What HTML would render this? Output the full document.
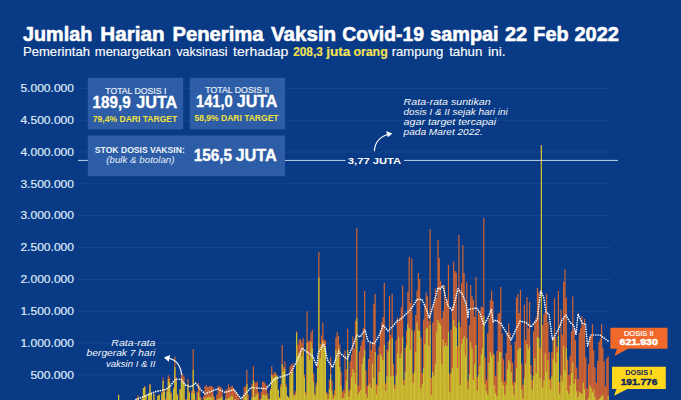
<!DOCTYPE html>
<html lang="id"><head><meta charset="utf-8"><title>Jumlah Harian Penerima Vaksin Covid-19</title>
<style>html,body{margin:0;padding:0;background:#093a85;}body{width:681px;height:400px;overflow:hidden;font-family:"Liberation Sans",sans-serif;}svg{display:block;}</style>
</head><body>
<svg width="681" height="400" viewBox="0 0 681 400" font-family="'Liberation Sans', sans-serif">
<line x1="78" x2="611" y1="88.30" y2="88.30" stroke="#1c4a95" stroke-width="0.8"/>
<line x1="78" x2="611" y1="120.15" y2="120.15" stroke="#1c4a95" stroke-width="0.8"/>
<line x1="78" x2="611" y1="152.00" y2="152.00" stroke="#1c4a95" stroke-width="0.8"/>
<line x1="78" x2="611" y1="183.85" y2="183.85" stroke="#1c4a95" stroke-width="0.8"/>
<line x1="78" x2="611" y1="215.70" y2="215.70" stroke="#1c4a95" stroke-width="0.8"/>
<line x1="78" x2="611" y1="247.55" y2="247.55" stroke="#1c4a95" stroke-width="0.8"/>
<line x1="78" x2="611" y1="279.40" y2="279.40" stroke="#1c4a95" stroke-width="0.8"/>
<line x1="78" x2="611" y1="311.25" y2="311.25" stroke="#1c4a95" stroke-width="0.8"/>
<line x1="78" x2="611" y1="343.10" y2="343.10" stroke="#1c4a95" stroke-width="0.8"/>
<line x1="78" x2="611" y1="374.95" y2="374.95" stroke="#1c4a95" stroke-width="0.8"/>
<text x="74.0" y="92.00" font-size="10.6" text-anchor="end" font-weight="normal" font-style="normal" fill="#dde8f8" textLength="53.6" lengthAdjust="spacingAndGlyphs" stroke="#dde8f8" stroke-width="0.2">5.000.000</text>
<text x="74.0" y="123.85" font-size="10.6" text-anchor="end" font-weight="normal" font-style="normal" fill="#dde8f8" textLength="53.6" lengthAdjust="spacingAndGlyphs" stroke="#dde8f8" stroke-width="0.2">4.500.000</text>
<text x="74.0" y="155.70" font-size="10.6" text-anchor="end" font-weight="normal" font-style="normal" fill="#dde8f8" textLength="53.6" lengthAdjust="spacingAndGlyphs" stroke="#dde8f8" stroke-width="0.2">4.000.000</text>
<text x="74.0" y="187.55" font-size="10.6" text-anchor="end" font-weight="normal" font-style="normal" fill="#dde8f8" textLength="53.6" lengthAdjust="spacingAndGlyphs" stroke="#dde8f8" stroke-width="0.2">3.500.000</text>
<text x="74.0" y="219.40" font-size="10.6" text-anchor="end" font-weight="normal" font-style="normal" fill="#dde8f8" textLength="53.6" lengthAdjust="spacingAndGlyphs" stroke="#dde8f8" stroke-width="0.2">3.000.000</text>
<text x="74.0" y="251.25" font-size="10.6" text-anchor="end" font-weight="normal" font-style="normal" fill="#dde8f8" textLength="53.6" lengthAdjust="spacingAndGlyphs" stroke="#dde8f8" stroke-width="0.2">2.500.000</text>
<text x="74.0" y="283.10" font-size="10.6" text-anchor="end" font-weight="normal" font-style="normal" fill="#dde8f8" textLength="53.6" lengthAdjust="spacingAndGlyphs" stroke="#dde8f8" stroke-width="0.2">2.000.000</text>
<text x="74.0" y="314.95" font-size="10.6" text-anchor="end" font-weight="normal" font-style="normal" fill="#dde8f8" textLength="53.6" lengthAdjust="spacingAndGlyphs" stroke="#dde8f8" stroke-width="0.2">1.500.000</text>
<text x="74.0" y="346.80" font-size="10.6" text-anchor="end" font-weight="normal" font-style="normal" fill="#dde8f8" textLength="53.6" lengthAdjust="spacingAndGlyphs" stroke="#dde8f8" stroke-width="0.2">1.000.000</text>
<text x="74.0" y="378.65" font-size="10.6" text-anchor="end" font-weight="normal" font-style="normal" fill="#dde8f8" textLength="43.6" lengthAdjust="spacingAndGlyphs" stroke="#dde8f8" stroke-width="0.2">500.000</text>
<!--CHART--><path d="M117.98 394.8v15.4h1.2v-15.4zM129.76 407.6v2.6h1.2v-2.6zM131.07 405.7v4.5h1.2v-4.5zM132.38 403.7v6.5h1.2v-6.5zM133.69 401.0v9.2h1.2v-9.2zM135.00 400.0v10.2h1.2v-10.2zM136.31 397.8v12.4h1.2v-12.4zM137.61 394.9v15.3h1.2v-15.3zM138.92 399.9v10.3h1.2v-10.3zM140.23 403.8v6.4h1.2v-6.4zM141.54 398.1v12.1h1.2v-12.1zM142.85 388.0v22.2h1.2v-22.2zM144.16 386.0v24.2h1.2v-24.2zM145.47 395.2v15.0h1.2v-15.0zM146.78 401.9v8.3h1.2v-8.3zM148.09 393.3v16.9h1.2v-16.9zM149.40 384.0v26.2h1.2v-26.2zM150.70 392.8v17.4h1.2v-17.4zM152.01 401.3v8.9h1.2v-8.9zM153.32 393.5v16.7h1.2v-16.7zM154.63 402.1v8.1h1.2v-8.1zM155.94 401.8v8.4h1.2v-8.4zM157.25 395.5v14.7h1.2v-14.7zM158.56 394.4v15.8h1.2v-15.8zM159.87 400.2v10.0h1.2v-10.0zM161.18 392.3v17.9h1.2v-17.9zM162.48 377.5v32.7h1.2v-32.7zM163.79 389.9v20.3h1.2v-20.3zM165.10 398.8v11.4h1.2v-11.4zM166.41 388.1v22.1h1.2v-22.1zM167.72 375.2v34.9h1.2v-34.9zM169.03 377.7v32.5h1.2v-32.5zM170.34 391.7v18.5h1.2v-18.5zM171.65 399.4v10.8h1.2v-10.8zM172.96 387.5v22.7h1.2v-22.7zM174.27 356.5v53.7h1.2v-53.7zM175.58 376.9v33.3h1.2v-33.3zM176.88 394.1v16.1h1.2v-16.1zM178.19 400.6v9.6h1.2v-9.6zM179.50 389.1v21.1h1.2v-21.1zM180.81 373.8v36.4h1.2v-36.4zM182.12 374.6v35.6h1.2v-35.6zM183.43 376.6v33.6h1.2v-33.6zM184.74 399.6v10.6h1.2v-10.6zM186.05 399.0v11.2h1.2v-11.2zM187.36 379.1v31.1h1.2v-31.1zM188.66 391.2v19.0h1.2v-19.0zM189.97 400.3v9.9h1.2v-9.9zM191.28 390.8v19.4h1.2v-19.4zM192.59 349.0v61.2h1.2v-61.2zM193.90 390.4v19.8h1.2v-19.8zM195.21 399.7v10.5h1.2v-10.5zM196.52 391.7v18.5h1.2v-18.5zM197.83 383.0v27.2h1.2v-27.2zM199.14 386.1v24.1h1.2v-24.1zM200.45 397.2v13.0h1.2v-13.0zM201.75 402.9v7.3h1.2v-7.3zM203.06 396.0v14.2h1.2v-14.2zM204.37 386.5v23.7h1.2v-23.7zM205.68 385.1v25.1h1.2v-25.1zM206.99 387.0v23.2h1.2v-23.2zM208.30 387.0v23.2h1.2v-23.2zM209.61 385.7v24.5h1.2v-24.5zM210.92 386.1v24.1h1.2v-24.1zM212.23 386.9v23.3h1.2v-23.3zM213.54 397.0v13.2h1.2v-13.2zM214.84 402.5v7.7h1.2v-7.7zM216.15 394.4v15.8h1.2v-15.8zM217.46 386.3v23.9h1.2v-23.9zM218.77 386.6v23.6h1.2v-23.6zM220.08 387.1v23.1h1.2v-23.1zM221.39 388.4v21.8h1.2v-21.8zM222.70 403.6v6.6h1.2v-6.6zM224.01 403.5v6.7h1.2v-6.7zM225.32 389.8v20.4h1.2v-20.4zM226.63 388.7v21.5h1.2v-21.5zM227.94 384.2v26.0h1.2v-26.0zM229.24 387.7v22.5h1.2v-22.5zM230.55 386.2v24.0h1.2v-24.0zM231.86 385.7v24.5h1.2v-24.5zM233.17 388.3v21.9h1.2v-21.9zM234.48 390.6v19.6h1.2v-19.6zM235.79 393.3v16.9h1.2v-16.9zM237.10 394.9v15.3h1.2v-15.3zM238.41 397.4v12.8h1.2v-12.8zM239.72 402.6v7.6h1.2v-7.6zM241.03 404.4v5.8h1.2v-5.8zM242.33 397.4v12.8h1.2v-12.8zM243.64 386.7v23.5h1.2v-23.5zM244.95 386.4v23.8h1.2v-23.8zM246.26 370.0v40.2h1.2v-40.2zM247.57 394.5v15.7h1.2v-15.7zM248.88 401.5v8.7h1.2v-8.7zM250.19 401.5v8.7h1.2v-8.7zM251.50 383.8v26.4h1.2v-26.4zM252.81 366.2v43.9h1.2v-43.9zM254.12 381.7v28.5h1.2v-28.5zM255.42 383.0v27.2h1.2v-27.2zM256.73 381.2v29.0h1.2v-29.0zM258.04 392.5v17.7h1.2v-17.7zM259.35 399.3v10.9h1.2v-10.9zM260.66 391.5v18.7h1.2v-18.7zM261.97 381.8v28.4h1.2v-28.4zM263.28 381.6v28.6h1.2v-28.6zM264.59 383.4v26.8h1.2v-26.8zM265.90 385.6v24.6h1.2v-24.6zM267.20 393.4v16.8h1.2v-16.8zM268.51 398.9v11.3h1.2v-11.3zM269.82 388.9v21.3h1.2v-21.3zM271.13 366.2v43.9h1.2v-43.9zM272.44 374.6v35.6h1.2v-35.6zM273.75 372.3v37.9h1.2v-37.9zM275.06 372.2v38.0h1.2v-38.0zM276.37 375.0v35.2h1.2v-35.2zM277.68 389.6v20.6h1.2v-20.6zM278.99 397.5v12.7h1.2v-12.7zM280.29 384.3v25.9h1.2v-25.9zM281.60 345.0v65.2h1.2v-65.2zM282.91 366.7v43.5h1.2v-43.5zM284.22 361.5v48.7h1.2v-48.7zM285.53 384.5v25.7h1.2v-25.7zM286.84 395.7v14.5h1.2v-14.5zM288.15 397.1v13.1h1.2v-13.1zM289.46 366.4v43.8h1.2v-43.8zM290.77 364.4v45.8h1.2v-45.8zM292.08 363.3v46.9h1.2v-46.9zM293.38 393.9v16.3h1.2v-16.3zM294.69 391.2v19.0h1.2v-19.0zM296.00 331.2v78.9h1.2v-78.9zM297.31 344.8v65.4h1.2v-65.4zM298.62 339.7v70.5h1.2v-70.5zM299.93 338.9v71.3h1.2v-71.3zM301.24 342.4v67.8h1.2v-67.8zM302.55 338.0v72.2h1.2v-72.2zM303.86 374.4v35.8h1.2v-35.8zM305.17 391.9v18.3h1.2v-18.3zM306.47 311.2v98.9h1.2v-98.9zM307.78 341.0v69.2h1.2v-69.2zM309.09 340.7v69.5h1.2v-69.5zM310.40 332.5v77.7h1.2v-77.7zM311.71 330.1v80.1h1.2v-80.1zM313.02 373.4v36.8h1.2v-36.8zM314.33 393.6v16.6h1.2v-16.6zM315.64 382.8v27.4h1.2v-27.4zM316.95 361.9v48.3h1.2v-48.3zM318.26 252.0v158.2h1.2v-158.2zM319.56 344.0v66.2h1.2v-66.2zM320.87 335.5v74.7h1.2v-74.7zM322.18 322.5v87.7h1.2v-87.7zM323.49 339.4v70.8h1.2v-70.8zM324.80 340.3v69.9h1.2v-69.9zM326.11 391.9v18.3h1.2v-18.3zM327.42 394.0v16.2h1.2v-16.2zM328.73 379.4v30.8h1.2v-30.8zM330.04 357.0v53.2h1.2v-53.2zM331.35 380.3v29.9h1.2v-29.9zM332.65 394.4v15.8h1.2v-15.8zM333.96 389.9v20.3h1.2v-20.3zM335.27 337.5v72.7h1.2v-72.7zM336.58 331.9v78.3h1.2v-78.3zM337.89 336.0v74.2h1.2v-74.2zM339.20 344.4v65.8h1.2v-65.8zM340.51 372.0v38.2h1.2v-38.2zM341.82 391.8v18.4h1.2v-18.4zM343.13 389.5v20.7h1.2v-20.7zM344.44 350.2v60.0h1.2v-60.0zM345.74 368.9v41.3h1.2v-41.3zM347.05 328.8v81.4h1.2v-81.4zM348.36 390.7v19.5h1.2v-19.5zM349.67 361.4v48.8h1.2v-48.8zM350.98 354.2v56.0h1.2v-56.0zM352.29 336.3v73.9h1.2v-73.9zM353.60 348.6v61.6h1.2v-61.6zM354.91 320.7v89.5h1.2v-89.5zM356.22 228.0v182.2h1.2v-182.2zM357.53 385.4v24.8h1.2v-24.8zM358.83 351.4v58.8h1.2v-58.8zM360.14 345.7v64.5h1.2v-64.5zM361.45 340.4v69.8h1.2v-69.8zM362.76 327.8v82.4h1.2v-82.4zM364.07 291.0v119.2h1.2v-119.2zM365.38 370.5v39.7h1.2v-39.7zM366.69 385.4v24.8h1.2v-24.8zM368.00 359.0v51.2h1.2v-51.2zM369.31 342.7v67.5h1.2v-67.5zM370.62 350.2v60.0h1.2v-60.0zM371.92 342.1v68.1h1.2v-68.1zM373.23 303.7v106.5h1.2v-106.5zM374.54 294.0v116.2h1.2v-116.2zM375.85 384.3v25.9h1.2v-25.9zM377.16 355.0v55.2h1.2v-55.2zM378.47 346.6v63.6h1.2v-63.6zM379.78 330.2v80.0h1.2v-80.0zM381.09 322.2v88.0h1.2v-88.0zM382.40 317.0v93.2h1.2v-93.2zM383.71 283.0v127.2h1.2v-127.2zM385.01 383.3v26.9h1.2v-26.9zM386.32 349.2v61.0h1.2v-61.0zM387.63 341.4v68.8h1.2v-68.8zM388.94 296.0v114.2h1.2v-114.2zM390.25 334.9v75.3h1.2v-75.3zM391.56 294.0v116.2h1.2v-116.2zM392.87 363.7v46.5h1.2v-46.5zM394.18 384.6v25.6h1.2v-25.6zM395.49 339.9v70.3h1.2v-70.3zM396.80 317.4v92.8h1.2v-92.8zM398.10 320.5v89.7h1.2v-89.7zM399.41 317.3v92.9h1.2v-92.9zM400.72 307.3v102.9h1.2v-102.9zM402.03 285.6v124.6h1.2v-124.6zM403.34 380.1v30.1h1.2v-30.1zM404.65 348.1v62.1h1.2v-62.1zM405.96 330.4v79.8h1.2v-79.8zM407.27 291.9v118.3h1.2v-118.3zM408.58 257.0v153.2h1.2v-153.2zM409.89 303.0v107.2h1.2v-107.2zM411.19 258.4v151.8h1.2v-151.8zM412.50 374.1v36.1h1.2v-36.1zM413.81 330.4v79.8h1.2v-79.8zM415.12 315.1v95.1h1.2v-95.1zM416.43 290.7v119.5h1.2v-119.5zM417.74 273.0v137.2h1.2v-137.2zM419.05 279.0v131.2h1.2v-131.2zM420.36 338.1v72.1h1.2v-72.1zM421.67 372.7v37.5h1.2v-37.5zM422.98 319.4v90.8h1.2v-90.8zM424.28 304.7v105.5h1.2v-105.5zM425.59 292.4v117.8h1.2v-117.8zM426.90 296.3v113.9h1.2v-113.9zM428.21 321.1v89.1h1.2v-89.1zM429.52 229.0v181.2h1.2v-181.2zM430.83 377.8v32.4h1.2v-32.4zM432.14 322.5v87.7h1.2v-87.7zM433.45 303.6v106.6h1.2v-106.6zM434.76 288.4v121.8h1.2v-121.8zM436.07 298.1v112.1h1.2v-112.1zM437.37 240.0v170.2h1.2v-170.2zM438.68 258.0v152.2h1.2v-152.2zM439.99 281.0v129.2h1.2v-129.2zM441.30 318.4v91.8h1.2v-91.8zM442.61 311.0v99.2h1.2v-99.2zM443.92 285.2v125.0h1.2v-125.0zM445.23 302.0v108.2h1.2v-108.2zM446.54 299.3v110.9h1.2v-110.9zM447.85 265.0v145.2h1.2v-145.2zM449.16 373.9v36.3h1.2v-36.3zM450.46 329.4v80.8h1.2v-80.8zM451.77 306.4v103.8h1.2v-103.8zM453.08 261.7v148.5h1.2v-148.5zM454.39 271.0v139.2h1.2v-139.2zM455.70 273.0v137.2h1.2v-137.2zM457.01 346.1v64.1h1.2v-64.1zM458.32 235.0v175.2h1.2v-175.2zM459.63 327.1v83.1h1.2v-83.1zM460.94 283.2v127.0h1.2v-127.0zM462.25 244.9v165.3h1.2v-165.3zM463.55 273.0v137.2h1.2v-137.2zM464.86 304.2v106.0h1.2v-106.0zM466.17 282.0v128.2h1.2v-128.2zM467.48 380.8v29.4h1.2v-29.4zM468.79 324.9v85.3h1.2v-85.3zM470.10 285.0v125.2h1.2v-125.2zM471.41 295.9v114.3h1.2v-114.3zM472.72 299.9v110.3h1.2v-110.3zM474.03 317.1v93.1h1.2v-93.1zM475.34 277.0v133.2h1.2v-133.2zM476.64 377.0v33.2h1.2v-33.2zM477.95 310.1v100.1h1.2v-100.1zM479.26 314.7v95.5h1.2v-95.5zM480.57 306.5v103.7h1.2v-103.7zM481.88 307.2v103.0h1.2v-103.0zM483.19 218.0v192.2h1.2v-192.2zM484.50 357.3v52.9h1.2v-52.9zM485.81 379.5v30.7h1.2v-30.7zM487.12 333.0v77.2h1.2v-77.2zM488.43 318.6v91.6h1.2v-91.6zM489.73 300.0v110.2h1.2v-110.2zM491.04 290.8v119.4h1.2v-119.4zM492.35 301.0v109.2h1.2v-109.2zM493.66 354.6v55.6h1.2v-55.6zM494.97 375.7v34.5h1.2v-34.5zM496.28 351.0v59.2h1.2v-59.2zM497.59 313.5v96.7h1.2v-96.7zM498.90 312.7v97.5h1.2v-97.5zM500.21 287.0v123.2h1.2v-123.2zM501.52 333.4v76.8h1.2v-76.8zM502.82 359.2v51.0h1.2v-51.0zM504.13 381.2v29.0h1.2v-29.0zM505.44 353.1v57.1h1.2v-57.1zM506.75 332.5v77.7h1.2v-77.7zM508.06 323.6v86.6h1.2v-86.6zM509.37 332.8v77.4h1.2v-77.4zM510.68 344.9v65.3h1.2v-65.3zM511.99 362.4v47.8h1.2v-47.8zM513.30 381.9v28.3h1.2v-28.3zM514.61 341.2v69.0h1.2v-69.0zM515.91 297.7v112.5h1.2v-112.5zM517.22 294.0v116.2h1.2v-116.2zM518.53 313.1v97.1h1.2v-97.1zM519.84 290.0v120.2h1.2v-120.2zM521.15 363.5v46.7h1.2v-46.7zM522.46 384.7v25.5h1.2v-25.5zM523.77 304.8v105.4h1.2v-105.4zM525.08 339.7v70.5h1.2v-70.5zM526.39 297.0v113.2h1.2v-113.2zM527.70 328.5v81.7h1.2v-81.7zM529.00 302.0v108.2h1.2v-108.2zM530.31 365.1v45.1h1.2v-45.1zM531.62 380.0v30.2h1.2v-30.2zM532.93 331.6v78.6h1.2v-78.6zM534.24 321.5v88.7h1.2v-88.7zM535.55 317.2v93.0h1.2v-93.0zM536.86 288.0v122.2h1.2v-122.2zM538.17 292.0v118.2h1.2v-118.2zM539.48 347.4v62.8h1.2v-62.8zM540.79 145.0v265.2h1.2v-265.2zM542.09 325.0v85.2h1.2v-85.2zM543.40 314.2v96.0h1.2v-96.0zM544.71 311.3v98.9h1.2v-98.9zM546.02 294.1v116.1h1.2v-116.1zM547.33 322.5v87.7h1.2v-87.7zM548.64 352.2v58.0h1.2v-58.0zM549.95 378.7v31.5h1.2v-31.5zM551.26 351.7v58.5h1.2v-58.5zM552.57 336.8v73.4h1.2v-73.4zM553.88 298.0v112.2h1.2v-112.2zM555.18 336.8v73.4h1.2v-73.4zM556.49 346.2v64.0h1.2v-64.0zM557.80 291.0v119.2h1.2v-119.2zM559.11 382.0v28.2h1.2v-28.2zM560.42 309.5v100.7h1.2v-100.7zM561.73 334.7v75.5h1.2v-75.5zM563.04 282.0v128.2h1.2v-128.2zM564.35 269.3v140.9h1.2v-140.9zM565.66 298.0v112.2h1.2v-112.2zM566.97 359.6v50.6h1.2v-50.6zM568.27 374.9v35.3h1.2v-35.3zM569.58 355.4v54.8h1.2v-54.8zM570.89 331.5v78.7h1.2v-78.7zM572.20 296.6v113.6h1.2v-113.6zM573.51 329.5v80.7h1.2v-80.7zM574.82 340.3v69.9h1.2v-69.9zM576.13 367.4v42.8h1.2v-42.8zM577.44 379.0v31.2h1.2v-31.2zM578.75 332.9v77.3h1.2v-77.3zM580.06 328.2v82.0h1.2v-82.0zM581.36 316.3v93.9h1.2v-93.9zM582.67 324.7v85.5h1.2v-85.5zM583.98 319.1v91.1h1.2v-91.1zM585.29 357.5v52.7h1.2v-52.7zM586.60 388.5v21.7h1.2v-21.7zM587.91 364.2v46.0h1.2v-46.0zM589.22 337.0v73.2h1.2v-73.2zM590.53 335.5v74.7h1.2v-74.7zM591.84 323.9v86.3h1.2v-86.3zM593.15 349.9v60.3h1.2v-60.3zM594.45 367.4v42.8h1.2v-42.8zM595.76 382.7v27.5h1.2v-27.5zM597.07 361.1v49.1h1.2v-49.1zM598.38 341.9v68.3h1.2v-68.3zM599.69 338.4v71.8h1.2v-71.8zM601.00 324.3v85.9h1.2v-85.9zM602.31 347.7v62.5h1.2v-62.5zM603.62 361.4v48.8h1.2v-48.8zM604.93 386.2v24.0h1.2v-24.0zM606.24 358.6v51.6h1.2v-51.6zM607.54 356.4v53.8h1.2v-53.8z" fill="#d2632f"/>
<path d="M118.02 394.8v15.4h1.12v-15.4zM129.80 407.7v2.5h1.12v-2.5zM131.11 406.2v4.0h1.12v-4.0zM132.42 405.0v5.2h1.12v-5.2zM133.73 402.8v7.4h1.12v-7.4zM135.04 401.8v8.4h1.12v-8.4zM136.34 400.8v9.4h1.12v-9.4zM137.65 397.9v12.3h1.12v-12.3zM138.96 401.6v8.6h1.12v-8.6zM140.27 404.3v5.9h1.12v-5.9zM141.58 398.9v11.3h1.12v-11.3zM142.89 388.0v22.2h1.12v-22.2zM144.20 387.1v23.1h1.12v-23.1zM145.51 395.3v14.9h1.12v-14.9zM146.82 402.4v7.8h1.12v-7.8zM148.13 393.4v16.8h1.12v-16.8zM149.44 384.5v25.7h1.12v-25.7zM150.74 393.3v16.9h1.12v-16.9zM152.05 401.5v8.7h1.12v-8.7zM153.36 393.9v16.3h1.12v-16.3zM154.67 402.1v8.1h1.12v-8.1zM155.98 402.0v8.2h1.12v-8.2zM157.29 395.9v14.3h1.12v-14.3zM158.60 395.1v15.1h1.12v-15.1zM159.91 401.4v8.8h1.12v-8.8zM161.22 394.3v15.9h1.12v-15.9zM162.52 381.0v29.2h1.12v-29.2zM163.83 392.0v18.2h1.12v-18.2zM165.14 400.4v9.8h1.12v-9.8zM166.45 391.4v18.8h1.12v-18.8zM167.76 379.0v31.2h1.12v-31.2zM169.07 382.6v27.6h1.12v-27.6zM170.38 393.8v16.4h1.12v-16.4zM171.69 400.7v9.5h1.12v-9.5zM173.00 389.5v20.7h1.12v-20.7zM174.31 367.0v43.2h1.12v-43.2zM175.62 380.4v29.8h1.12v-29.8zM176.92 395.6v14.6h1.12v-14.6zM178.23 400.7v9.5h1.12v-9.5zM179.54 389.6v20.6h1.12v-20.6zM180.85 378.0v32.2h1.12v-32.2zM182.16 380.4v29.8h1.12v-29.8zM183.47 382.5v27.7h1.12v-27.7zM184.78 401.8v8.4h1.12v-8.4zM186.09 400.9v9.3h1.12v-9.3zM187.40 384.2v26.0h1.12v-26.0zM188.70 393.1v17.1h1.12v-17.1zM190.01 401.4v8.8h1.12v-8.8zM191.32 393.0v17.2h1.12v-17.2zM192.63 370.0v40.2h1.12v-40.2zM193.94 394.0v16.2h1.12v-16.2zM195.25 401.9v8.3h1.12v-8.3zM196.56 400.0v10.2h1.12v-10.2zM197.87 392.4v17.8h1.12v-17.8zM199.18 397.3v12.9h1.12v-12.9zM200.49 402.6v7.6h1.12v-7.6zM201.79 405.5v4.7h1.12v-4.7zM203.10 402.3v7.9h1.12v-7.9zM204.41 397.2v13.0h1.12v-13.0zM205.72 398.4v11.8h1.12v-11.8zM207.03 397.2v13.0h1.12v-13.0zM208.34 396.7v13.5h1.12v-13.5zM209.65 396.7v13.5h1.12v-13.5zM210.96 398.6v11.6h1.12v-11.6zM212.27 395.4v14.8h1.12v-14.8zM213.58 402.5v7.7h1.12v-7.7zM214.88 405.2v5.0h1.12v-5.0zM216.19 400.3v9.9h1.12v-9.9zM217.50 398.8v11.4h1.12v-11.4zM218.81 398.7v11.5h1.12v-11.5zM220.12 397.9v12.3h1.12v-12.3zM221.43 396.5v13.7h1.12v-13.7zM222.74 406.2v4.0h1.12v-4.0zM224.05 405.6v4.6h1.12v-4.6zM225.36 398.5v11.7h1.12v-11.7zM226.67 399.2v11.0h1.12v-11.0zM227.97 397.9v12.3h1.12v-12.3zM229.28 397.5v12.7h1.12v-12.7zM230.59 396.1v14.1h1.12v-14.1zM231.90 396.6v13.6h1.12v-13.6zM233.21 400.0v10.2h1.12v-10.2zM234.52 399.0v11.2h1.12v-11.2zM235.83 401.1v9.1h1.12v-9.1zM237.14 401.0v9.2h1.12v-9.2zM238.45 401.9v8.3h1.12v-8.3zM239.76 404.8v5.4h1.12v-5.4zM241.06 406.3v3.9h1.12v-3.9zM242.37 403.0v7.2h1.12v-7.2zM243.68 395.6v14.6h1.12v-14.6zM244.99 397.0v13.2h1.12v-13.2zM246.30 384.0v26.2h1.12v-26.2zM247.61 401.8v8.4h1.12v-8.4zM248.92 404.2v6.0h1.12v-6.0zM250.23 405.0v5.2h1.12v-5.2zM251.54 397.3v12.9h1.12v-12.9zM252.85 380.0v30.2h1.12v-30.2zM254.16 397.1v13.1h1.12v-13.1zM255.46 394.7v15.5h1.12v-15.5zM256.77 393.8v16.4h1.12v-16.4zM258.08 400.1v10.1h1.12v-10.1zM259.39 403.2v7.0h1.12v-7.0zM260.70 398.8v11.4h1.12v-11.4zM262.01 395.2v15.0h1.12v-15.0zM263.32 394.1v16.1h1.12v-16.1zM264.63 395.8v14.4h1.12v-14.4zM265.94 394.7v15.5h1.12v-15.5zM267.24 399.3v10.9h1.12v-10.9zM268.55 399.1v11.1h1.12v-11.1zM269.86 390.4v19.8h1.12v-19.8zM271.17 375.0v35.2h1.12v-35.2zM272.48 377.8v32.4h1.12v-32.4zM273.79 377.3v32.9h1.12v-32.9zM275.10 375.3v34.9h1.12v-34.9zM276.41 376.0v34.2h1.12v-34.2zM277.72 390.2v20.0h1.12v-20.0zM279.03 397.8v12.4h1.12v-12.4zM280.33 386.7v23.5h1.12v-23.5zM281.64 364.0v46.2h1.12v-46.2zM282.95 371.4v38.8h1.12v-38.8zM284.26 368.7v41.5h1.12v-41.5zM285.57 387.1v23.1h1.12v-23.1zM286.88 396.1v14.1h1.12v-14.1zM288.19 397.4v12.8h1.12v-12.8zM289.50 375.5v34.7h1.12v-34.7zM290.81 372.3v37.9h1.12v-37.9zM292.12 371.6v38.6h1.12v-38.6zM293.43 396.0v14.2h1.12v-14.2zM294.73 394.6v15.6h1.12v-15.6zM296.04 333.0v77.2h1.12v-77.2zM297.35 355.7v54.5h1.12v-54.5zM298.66 352.8v57.4h1.12v-57.4zM299.97 351.5v58.7h1.12v-58.7zM301.28 356.6v53.6h1.12v-53.6zM302.59 350.1v60.1h1.12v-60.1zM303.90 377.7v32.5h1.12v-32.5zM305.21 395.1v15.1h1.12v-15.1zM306.51 343.0v67.2h1.12v-67.2zM307.82 355.4v54.8h1.12v-54.8zM309.13 359.9v50.3h1.12v-50.3zM310.44 342.0v68.2h1.12v-68.2zM311.75 348.4v61.8h1.12v-61.8zM313.06 381.7v28.5h1.12v-28.5zM314.37 395.2v15.0h1.12v-15.0zM315.68 386.2v24.0h1.12v-24.0zM316.99 367.9v42.3h1.12v-42.3zM318.30 277.5v132.7h1.12v-132.7zM319.60 358.2v52.0h1.12v-52.0zM320.91 345.2v65.0h1.12v-65.0zM322.22 341.0v69.2h1.12v-69.2zM323.53 349.3v60.9h1.12v-60.9zM324.84 346.6v63.6h1.12v-63.6zM326.15 394.2v16.0h1.12v-16.0zM327.46 399.0v11.2h1.12v-11.2zM328.77 389.3v20.9h1.12v-20.9zM330.08 374.3v35.9h1.12v-35.9zM331.39 390.4v19.8h1.12v-19.8zM332.69 398.7v11.5h1.12v-11.5zM334.00 395.8v14.4h1.12v-14.4zM335.31 350.0v60.2h1.12v-60.2zM336.62 359.1v51.1h1.12v-51.1zM337.93 348.0v62.2h1.12v-62.2zM339.24 367.0v43.2h1.12v-43.2zM340.55 385.7v24.5h1.12v-24.5zM341.86 398.5v11.7h1.12v-11.7zM343.17 397.7v12.5h1.12v-12.5zM344.48 393.0v17.2h1.12v-17.2zM345.78 380.6v29.6h1.12v-29.6zM347.09 350.0v60.2h1.12v-60.2zM348.40 396.8v13.4h1.12v-13.4zM349.71 389.6v20.6h1.12v-20.6zM351.02 376.7v33.5h1.12v-33.5zM352.33 369.0v41.2h1.12v-41.2zM353.64 372.6v37.6h1.12v-37.6zM354.95 383.5v26.7h1.12v-26.7zM356.26 318.0v92.2h1.12v-92.2zM357.57 394.1v16.1h1.12v-16.1zM358.88 392.1v18.1h1.12v-18.1zM360.18 389.8v20.4h1.12v-20.4zM361.49 364.1v46.1h1.12v-46.1zM362.80 357.3v52.9h1.12v-52.9zM364.11 350.0v60.2h1.12v-60.2zM365.42 393.6v16.6h1.12v-16.6zM366.73 397.4v12.8h1.12v-12.8zM368.04 385.5v24.7h1.12v-24.7zM369.35 383.4v26.8h1.12v-26.8zM370.66 387.8v22.4h1.12v-22.4zM371.96 363.8v46.4h1.12v-46.4zM373.27 377.9v32.3h1.12v-32.3zM374.58 352.0v58.2h1.12v-58.2zM375.89 394.3v15.9h1.12v-15.9zM377.20 386.0v24.2h1.12v-24.2zM378.51 371.9v38.3h1.12v-38.3zM379.82 353.9v56.3h1.12v-56.3zM381.13 356.6v53.6h1.12v-53.6zM382.44 360.0v50.2h1.12v-50.2zM383.75 345.0v65.2h1.12v-65.2zM385.06 391.1v19.1h1.12v-19.1zM386.36 376.3v33.9h1.12v-33.9zM387.67 351.6v58.6h1.12v-58.6zM388.98 340.0v70.2h1.12v-70.2zM390.29 376.3v33.9h1.12v-33.9zM391.60 338.0v72.2h1.12v-72.2zM392.91 376.6v33.6h1.12v-33.6zM394.22 389.0v21.2h1.12v-21.2zM395.53 375.5v34.7h1.12v-34.7zM396.84 353.8v56.4h1.12v-56.4zM398.14 337.3v72.9h1.12v-72.9zM399.45 358.1v52.1h1.12v-52.1zM400.76 353.5v56.7h1.12v-56.7zM402.07 337.0v73.2h1.12v-73.2zM403.38 385.3v24.9h1.12v-24.9zM404.69 372.3v37.9h1.12v-37.9zM406.00 344.9v65.3h1.12v-65.3zM407.31 324.1v86.1h1.12v-86.1zM408.62 328.0v82.2h1.12v-82.2zM409.93 349.8v60.4h1.12v-60.4zM411.23 330.0v80.2h1.12v-80.2zM412.54 383.0v27.2h1.12v-27.2zM413.85 371.8v38.4h1.12v-38.4zM415.16 352.3v57.9h1.12v-57.9zM416.47 322.3v87.9h1.12v-87.9zM417.78 330.0v80.2h1.12v-80.2zM419.09 331.0v79.2h1.12v-79.2zM420.40 388.4v21.8h1.12v-21.8zM421.71 383.7v26.5h1.12v-26.5zM423.02 368.2v42.0h1.12v-42.0zM424.32 343.9v66.3h1.12v-66.3zM425.63 328.7v81.5h1.12v-81.5zM426.94 327.5v82.7h1.12v-82.7zM428.25 345.8v64.4h1.12v-64.4zM429.56 325.0v85.2h1.12v-85.2zM430.87 395.1v15.1h1.12v-15.1zM432.18 372.1v38.1h1.12v-38.1zM433.49 375.6v34.6h1.12v-34.6zM434.80 364.2v46.0h1.12v-46.0zM436.11 331.5v78.7h1.12v-78.7zM437.41 320.0v90.2h1.12v-90.2zM438.72 323.0v87.2h1.12v-87.2zM440.03 325.0v85.2h1.12v-85.2zM441.34 364.4v45.8h1.12v-45.8zM442.65 339.4v70.8h1.12v-70.8zM443.96 346.7v63.5h1.12v-63.5zM445.27 342.8v67.4h1.12v-67.4zM446.58 346.0v64.2h1.12v-64.2zM447.89 332.0v78.2h1.12v-78.2zM449.20 391.7v18.5h1.12v-18.5zM450.50 373.2v37.0h1.12v-37.0zM451.81 367.7v42.5h1.12v-42.5zM453.12 319.5v90.7h1.12v-90.7zM454.43 326.0v84.2h1.12v-84.2zM455.74 328.0v82.2h1.12v-82.2zM457.05 368.4v41.8h1.12v-41.8zM458.36 322.0v88.2h1.12v-88.2zM459.67 384.9v25.3h1.12v-25.3zM460.98 343.9v66.3h1.12v-66.3zM462.29 338.9v71.3h1.12v-71.3zM463.59 336.0v74.2h1.12v-74.2zM464.90 355.4v54.8h1.12v-54.8zM466.21 338.0v72.2h1.12v-72.2zM467.52 389.0v21.2h1.12v-21.2zM468.83 374.2v36.0h1.12v-36.0zM470.14 342.0v68.2h1.12v-68.2zM471.45 348.3v61.9h1.12v-61.9zM472.76 380.0v30.2h1.12v-30.2zM474.07 364.0v46.2h1.12v-46.2zM475.38 345.0v65.2h1.12v-65.2zM476.69 390.6v19.6h1.12v-19.6zM477.99 374.8v35.4h1.12v-35.4zM479.30 365.7v44.5h1.12v-44.5zM480.61 354.6v55.6h1.12v-55.6zM481.92 348.0v62.2h1.12v-62.2zM483.23 316.0v94.2h1.12v-94.2zM484.54 383.8v26.4h1.12v-26.4zM485.85 390.7v19.5h1.12v-19.5zM487.16 394.6v15.6h1.12v-15.6zM488.47 362.9v47.3h1.12v-47.3zM489.77 352.0v58.2h1.12v-58.2zM491.08 356.4v53.8h1.12v-53.8zM492.39 354.0v56.2h1.12v-56.2zM493.70 385.4v24.8h1.12v-24.8zM495.01 393.2v17.0h1.12v-17.0zM496.32 395.8v14.4h1.12v-14.4zM497.63 361.4v48.8h1.12v-48.8zM498.94 351.9v58.3h1.12v-58.3zM500.25 352.0v58.2h1.12v-58.2zM501.56 382.0v28.2h1.12v-28.2zM502.86 385.2v25.0h1.12v-25.0zM504.17 394.6v15.6h1.12v-15.6zM505.48 384.8v25.4h1.12v-25.4zM506.79 369.2v41.0h1.12v-41.0zM508.10 360.1v50.1h1.12v-50.1zM509.41 362.7v47.5h1.12v-47.5zM510.72 372.2v38.0h1.12v-38.0zM512.03 385.2v25.0h1.12v-25.0zM513.34 394.6v15.6h1.12v-15.6zM514.65 383.1v27.1h1.12v-27.1zM515.96 368.5v41.7h1.12v-41.7zM517.26 350.0v60.2h1.12v-60.2zM518.57 347.7v62.5h1.12v-62.5zM519.88 348.0v62.2h1.12v-62.2zM521.19 389.2v21.0h1.12v-21.0zM522.50 398.6v11.6h1.12v-11.6zM523.81 378.3v31.9h1.12v-31.9zM525.12 363.7v46.5h1.12v-46.5zM526.43 344.0v66.2h1.12v-66.2zM527.74 349.2v61.0h1.12v-61.0zM529.05 346.0v64.2h1.12v-64.2zM530.35 374.8v35.4h1.12v-35.4zM531.66 389.6v20.6h1.12v-20.6zM532.97 375.9v34.3h1.12v-34.3zM534.28 358.0v52.2h1.12v-52.2zM535.59 373.2v37.0h1.12v-37.0zM536.90 337.0v73.2h1.12v-73.2zM538.21 338.0v72.2h1.12v-72.2zM539.52 378.2v32.0h1.12v-32.0zM540.83 145.6v264.6h1.12v-264.6zM542.13 387.5v22.7h1.12v-22.7zM543.44 380.1v30.1h1.12v-30.1zM544.75 353.4v56.8h1.12v-56.8zM546.06 371.8v38.4h1.12v-38.4zM547.37 360.0v50.2h1.12v-50.2zM548.68 379.7v30.5h1.12v-30.5zM549.99 389.7v20.5h1.12v-20.5zM551.30 376.2v34.0h1.12v-34.0zM552.61 359.2v51.0h1.12v-51.0zM553.92 338.0v72.2h1.12v-72.2zM555.23 363.3v46.9h1.12v-46.9zM556.53 352.4v57.8h1.12v-57.8zM557.84 336.0v74.2h1.12v-74.2zM559.15 393.8v16.4h1.12v-16.4zM560.46 375.5v34.7h1.12v-34.7zM561.77 381.1v29.1h1.12v-29.1zM563.08 346.0v64.2h1.12v-64.2zM564.39 370.3v39.9h1.12v-39.9zM565.70 348.0v62.2h1.12v-62.2zM567.01 390.7v19.5h1.12v-19.5zM568.32 394.0v16.2h1.12v-16.2zM569.62 385.2v25.0h1.12v-25.0zM570.93 373.0v37.2h1.12v-37.2zM572.24 362.4v47.8h1.12v-47.8zM573.55 383.8v26.4h1.12v-26.4zM574.86 379.1v31.1h1.12v-31.1zM576.17 391.3v18.9h1.12v-18.9zM577.48 397.3v12.9h1.12v-12.9zM578.79 391.9v18.3h1.12v-18.3zM580.10 393.2v17.0h1.12v-17.0zM581.40 394.1v16.1h1.12v-16.1zM582.71 382.3v27.9h1.12v-27.9zM584.02 389.2v21.0h1.12v-21.0zM585.33 402.7v7.5h1.12v-7.5zM586.64 400.4v9.8h1.12v-9.8zM587.95 398.0v12.2h1.12v-12.2zM589.26 385.2v25.0h1.12v-25.0zM590.57 387.7v22.5h1.12v-22.5zM591.88 392.5v17.7h1.12v-17.7zM593.19 389.6v20.6h1.12v-20.6zM594.50 397.0v13.2h1.12v-13.2zM595.80 401.8v8.4h1.12v-8.4zM597.11 401.3v8.9h1.12v-8.9zM598.42 398.9v11.3h1.12v-11.3zM599.73 397.4v12.8h1.12v-12.8zM601.04 395.9v14.3h1.12v-14.3zM602.35 395.2v15.0h1.12v-15.0zM603.66 401.5v8.7h1.12v-8.7zM604.97 405.7v4.5h1.12v-4.5zM606.28 404.3v5.9h1.12v-5.9zM607.59 396.0v14.2h1.12v-14.2z" fill="#cac52f"/>
<polyline points="136.0,399.5 145.0,396.0 155.0,391.8 165.5,389.5 170.0,386.5 175.2,379.3 181.2,379.3 185.0,385.0 191.0,386.8 195.5,383.0 200.0,389.0 205.0,393.8 217.5,388.8 225.0,392.5 233.8,389.5 241.0,398.8 251.0,387.5 266.0,388.8 275.0,378.8 290.0,373.8 297.5,360.0 302.0,348.0 307.5,352.5 312.5,356.0 317.0,366.0 318.2,352.5 323.8,343.8 327.5,360.0 332.5,367.5 338.8,351.2 340.0,353.0 347.0,359.0 352.0,348.0 357.0,335.0 360.0,337.0 365.0,330.0 368.0,341.0 374.0,344.0 380.0,334.0 383.0,325.0 388.0,331.0 393.0,326.0 398.0,320.0 400.0,320.0 405.0,315.0 410.0,310.0 413.7,305.0 416.9,299.4 421.9,299.4 425.0,306.0 429.4,318.0 432.5,307.5 436.2,295.0 438.0,287.5 440.0,289.4 443.0,285.6 445.0,295.0 448.0,306.0 452.5,310.6 455.6,298.8 458.0,288.8 462.5,294.4 466.2,303.8 468.0,318.0 468.8,308.8 473.8,308.8 476.2,307.5 480.0,312.5 482.5,321.0 483.8,325.0 488.0,318.0 491.5,309.0 493.0,322.0 496.0,320.0 501.0,323.8 511.0,340.0 520.0,321.0 526.0,322.5 531.0,327.0 537.5,318.8 539.5,300.0 540.8,291.0 543.8,297.5 546.0,312.5 549.0,314.0 552.5,340.0 558.8,328.8 562.0,320.0 566.0,315.0 570.0,322.5 573.8,325.5 576.0,335.0 578.0,313.8 582.5,323.8 585.5,323.8 587.5,346.0 591.0,335.0 600.0,335.0 604.0,338.0 608.0,341.0" fill="none" stroke="#fff" stroke-width="1.65" stroke-dasharray="0.01 2.35" stroke-linecap="round" stroke-linejoin="round"/>
<path d="M78 160.4H88M285 160.4H345.5M404 160.4H618" stroke="#dfe8f7" stroke-width="0.9" fill="none"/>
<text x="347.8" y="163.8" font-size="9.7" text-anchor="start" font-weight="bold" font-style="normal" fill="#fff" textLength="53.4" lengthAdjust="spacingAndGlyphs">3,77 JUTA</text>
<rect x="87.8" y="77.8" width="95.4" height="51.5" fill="#2d5da6"/>
<rect x="189.8" y="77.8" width="95.2" height="51.5" fill="#2d5da6"/>
<rect x="87.8" y="135.5" width="197.2" height="40.7" fill="#2d5da6"/>
<text x="105.3" y="93.8" font-size="9" text-anchor="start" font-weight="normal" font-style="normal" fill="#e6eefa" textLength="61" lengthAdjust="spacingAndGlyphs" stroke="#e6eefa" stroke-width="0.2">TOTAL DOSIS I</text>
<text y="108.4" font-size="16.2" font-weight="bold" fill="#fff" stroke="#fff" stroke-width="0.35"><tspan x="92.6" textLength="38.0" lengthAdjust="spacingAndGlyphs">189,9</tspan> <tspan x="136.2" textLength="41.1" lengthAdjust="spacingAndGlyphs">JUTA</tspan></text>
<text x="92.8" y="121.9" font-size="8.8" text-anchor="start" font-weight="bold" font-style="normal" fill="#f2e23c" textLength="84.5" lengthAdjust="spacingAndGlyphs">79,4% DARI TARGET</text>
<text x="205.3" y="93.1" font-size="9" text-anchor="start" font-weight="normal" font-style="normal" fill="#e6eefa" textLength="64" lengthAdjust="spacingAndGlyphs" stroke="#e6eefa" stroke-width="0.2">TOTAL DOSIS II</text>
<text y="107.4" font-size="16.2" font-weight="bold" fill="#fff" stroke="#fff" stroke-width="0.35"><tspan x="196.1" textLength="36.5" lengthAdjust="spacingAndGlyphs">141,0</tspan> <tspan x="236.7" textLength="40.8" lengthAdjust="spacingAndGlyphs">JUTA</tspan></text>
<text x="194.5" y="120.9" font-size="8.8" text-anchor="start" font-weight="bold" font-style="normal" fill="#f2e23c" textLength="84" lengthAdjust="spacingAndGlyphs">58,9% DARI TARGET</text>
<text x="94.8" y="153.3" font-size="8.7" text-anchor="start" font-weight="bold" font-style="normal" fill="#eef3fb" textLength="90" lengthAdjust="spacingAndGlyphs">STOK DOSIS VAKSIN:</text>
<text x="106.3" y="163" font-size="8.6" text-anchor="start" font-weight="normal" font-style="italic" fill="#e6eefa" textLength="68.2" lengthAdjust="spacingAndGlyphs">(bulk &amp; botolan)</text>
<text y="160.6" font-size="16.2" font-weight="bold" fill="#fff" stroke="#fff" stroke-width="0.35"><tspan x="193.7" textLength="38.3" lengthAdjust="spacingAndGlyphs">156,5</tspan> <tspan x="235.4" textLength="41.5" lengthAdjust="spacingAndGlyphs">JUTA</tspan></text>
<text y="40.6" font-size="19.7" font-weight="bold" fill="#fff" stroke="#fff" stroke-width="0.55"><tspan x="23.1" textLength="69.1" lengthAdjust="spacingAndGlyphs">Jumlah</tspan> <tspan x="100.3" textLength="64.2" lengthAdjust="spacingAndGlyphs">Harian</tspan> <tspan x="172.4" textLength="91.2" lengthAdjust="spacingAndGlyphs">Penerima</tspan> <tspan x="270.9" textLength="65.3" lengthAdjust="spacingAndGlyphs">Vaksin</tspan> <tspan x="342.2" textLength="81.8" lengthAdjust="spacingAndGlyphs">Covid-19</tspan> <tspan x="430.3" textLength="68.3" lengthAdjust="spacingAndGlyphs">sampai</tspan> <tspan x="505.0" textLength="22.2" lengthAdjust="spacingAndGlyphs">22</tspan> <tspan x="533.3" textLength="35.3" lengthAdjust="spacingAndGlyphs">Feb</tspan> <tspan x="574.4" textLength="44.5" lengthAdjust="spacingAndGlyphs">2022</tspan></text>
<text y="55.6" font-size="12.4" font-weight="normal" fill="#fff" stroke="#fff" stroke-width="0.12"><tspan x="22.9" textLength="67.1" lengthAdjust="spacingAndGlyphs">Pemerintah</tspan> <tspan x="94.8" textLength="75.9" lengthAdjust="spacingAndGlyphs">menargetkan</tspan> <tspan x="176.4" textLength="51.0" lengthAdjust="spacingAndGlyphs">vaksinasi</tspan> <tspan x="233.1" textLength="55.3" lengthAdjust="spacingAndGlyphs">terhadap</tspan> <tspan x="293.3" textLength="29.4" lengthAdjust="spacingAndGlyphs" fill="#f5e13a" font-weight="bold">208,3</tspan> <tspan x="326.2" textLength="24.2" lengthAdjust="spacingAndGlyphs" fill="#f5e13a" font-weight="bold">juta</tspan> <tspan x="353.4" textLength="34.3" lengthAdjust="spacingAndGlyphs" fill="#f5e13a" font-weight="bold">orang</tspan> <tspan x="391.7" textLength="51.7" lengthAdjust="spacingAndGlyphs">rampung</tspan> <tspan x="449.2" textLength="33.2" lengthAdjust="spacingAndGlyphs">tahun</tspan> <tspan x="488.0" textLength="17.7" lengthAdjust="spacingAndGlyphs">ini.</tspan></text>
<text x="403.6" y="104.9" font-size="9.1" text-anchor="start" font-weight="normal" font-style="italic" fill="#f4f7fc" textLength="87" lengthAdjust="spacingAndGlyphs">Rata-rata suntikan</text>
<text x="403.6" y="114.9" font-size="9.1" text-anchor="start" font-weight="normal" font-style="italic" fill="#f4f7fc" textLength="104" lengthAdjust="spacingAndGlyphs">dosis I &amp; II sejak hari ini</text>
<text x="403.6" y="124.9" font-size="9.1" text-anchor="start" font-weight="normal" font-style="italic" fill="#f4f7fc" textLength="92.6" lengthAdjust="spacingAndGlyphs">agar target tercapai</text>
<text x="403.6" y="134.8" font-size="9.1" text-anchor="start" font-weight="normal" font-style="italic" fill="#f4f7fc" textLength="79.2" lengthAdjust="spacingAndGlyphs">pada Maret 2022.</text>
<path d="M374.4 150.6 C375 142.5 380 136.6 388.5 134.2" fill="none" stroke="#fff" stroke-width="1.15" stroke-linecap="round"/>
<path d="M392.3 133.5 L386.1 131 L387.9 137.2 Z" fill="#fff"/>
<text x="155.4" y="345.8" font-size="9.1" text-anchor="end" font-weight="normal" font-style="italic" fill="#f4f7fc" textLength="44.1" lengthAdjust="spacingAndGlyphs">Rata-rata</text>
<text x="155.4" y="356.2" font-size="9.1" text-anchor="end" font-weight="normal" font-style="italic" fill="#f4f7fc" textLength="68.8" lengthAdjust="spacingAndGlyphs">bergerak 7 hari</text>
<text x="155.4" y="366.7" font-size="9.1" text-anchor="end" font-weight="normal" font-style="italic" fill="#f4f7fc" textLength="49.5" lengthAdjust="spacingAndGlyphs">vaksin I &amp; II</text>
<path d="M168.6 358.3 C175 359.4 180.2 365 181.7 374.4" fill="none" stroke="#fff" stroke-width="1.15" stroke-linecap="round"/>
<path d="M163.9 357.4 L170.1 355 L168.7 361.8 Z" fill="#fff"/>
<path d="M610.4 327.8 H667.5 V348.8 H628 L614.5 356 L617 348.8 H610.4 Z" fill="#f0682a"/>
<text x="638.8" y="335.6" font-size="7.0" text-anchor="middle" font-weight="normal" font-style="normal" fill="#fff" textLength="29.8" lengthAdjust="spacingAndGlyphs" stroke="#fff" stroke-width="0.2">DOSIS II</text>
<text x="638.7" y="344.9" font-size="9.6" text-anchor="middle" font-weight="bold" font-style="normal" fill="#fff" textLength="38.4" lengthAdjust="spacingAndGlyphs" stroke="#fff" stroke-width="0.45">621.930</text>
<path d="M612 366.8 H665.8 V389 H627.5 L614 395.8 L616.5 389 H612 Z" fill="#ffd81c"/>
<text x="638.7" y="374.9" font-size="7.0" text-anchor="middle" font-weight="bold" font-style="normal" fill="#11285c" textLength="26.8" lengthAdjust="spacingAndGlyphs">DOSIS I</text>
<text x="639.0" y="385.1" font-size="9.6" text-anchor="middle" font-weight="bold" font-style="normal" fill="#11285c" textLength="36.6" lengthAdjust="spacingAndGlyphs" stroke="#11285c" stroke-width="0.45">191.776</text>
</svg>
</body></html>
